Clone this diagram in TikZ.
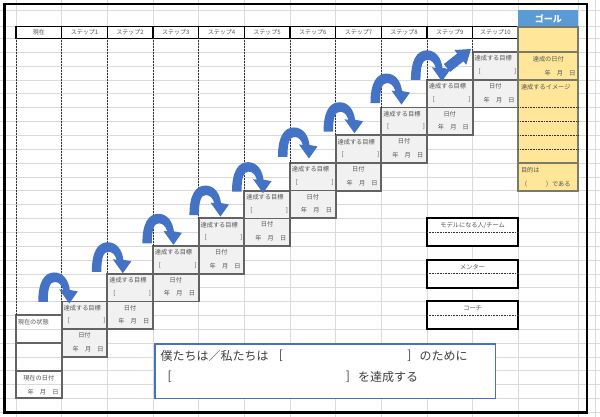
\documentclass[tikz,border=0pt]{standalone}
\usepackage{fontspec}
\setmainfont{Noto Sans CJK JP}
\usetikzlibrary{calc}
\definecolor{gridc}{HTML}{DADADA}
\definecolor{boxline}{HTML}{636363}
\definecolor{boxfill}{HTML}{F1F1F1}
\definecolor{txt}{HTML}{555555}
\definecolor{darktxt}{HTML}{404040}
\definecolor{arrowblue}{HTML}{4472C4}
\definecolor{goalblue}{HTML}{5B9BD5}
\definecolor{goalyellow}{HTML}{FFE699}
\definecolor{goalline}{HTML}{7A7A6A}
\begin{document}
\begin{tikzpicture}[x=1pt,y=-1pt,
  every node/.style={inner sep=0pt, outer sep=0pt},
  small/.style={font=\fontsize{6.2}{7}\selectfont, text=txt},
  hdrcell/.style={draw=black, line width=1.4pt, fill=white, minimum width=45.66pt, minimum height=11.6pt, anchor=north west, font=\fontsize{6}{7}\selectfont, text=txt},
  stepbox/.style={draw=boxline, line width=1.9pt, fill=boxfill, minimum width=45.66pt, minimum height=55.4pt, anchor=north west},
  curbox/.style={draw=boxline, line width=1.9pt, minimum width=45.66pt, minimum height=83.1pt, anchor=north west},
  modelbox/.style={draw=black, line width=2pt, fill=white, minimum width=91.32pt, minimum height=27.7pt, anchor=north west},
  divider/.style={boxline, line width=1.7pt},
  guide/.style={densely dotted, line width=0.5pt, black!80},
  bigtext/.style={font=\fontsize{12}{14}\selectfont, text=darktxt},
  archarrow/.pic={\fill[arrowblue] (0,0) .. controls (0,-20) and (6,-29.5) .. (16,-29.5) .. controls (25.5,-29.5) and (30.5,-21) .. (31.5,-12) -- (39.5,-10.5) -- (31,1.5) -- (21,-12.5) -- (24.8,-12) .. controls (23.5,-17) and (20.5,-20) .. (16.5,-20) .. controls (11.5,-20) and (9.5,-14) .. (9.5,0) -- cycle;}
]
\useasboundingbox (0,0) rectangle (600,417);
\fill[white] (0,0) rectangle (600,417);
% spreadsheet grid
\foreach \i in {0,...,11} \draw[gridc, line width=0.5pt] ({16+45.66*\i},0) -- ({16+45.66*\i},417);
\foreach \xx in {578.3,595} \draw[gridc, line width=0.5pt] (\xx,0) -- (\xx,417);
\foreach \n in {0,...,27} \draw[gridc, line width=0.5pt] (0,{38.3+13.85*\n}) -- (600,{38.3+13.85*\n});
\foreach \yy in {10.5,26.7} \draw[gridc, line width=0.5pt] (0,\yy) -- (600,\yy);
% outer frame
\draw[line width=2.4pt] (4.6,4) rectangle (587,412.3);
% header row
\foreach \k/\lab in {0/現在,1/ステップ1,2/ステップ2,3/ステップ3,4/ステップ4,5/ステップ5,6/ステップ6,7/ステップ7,8/ステップ8,9/ステップ9,10/ステップ10}
  \node[hdrcell] (h\k) at ({16+45.66*\k},26.7) {\lab};
% current state box
\node[curbox] (cur) at (16,315.3) {};
\draw[divider] ($(cur.north west)+(0,27.7)$) -- ($(cur.north east)+(0,27.7)$);
\draw[divider] ($(cur.north west)+(0,55.4)$) -- ($(cur.north east)+(0,55.4)$);
\node[small, anchor=west] (cur-state) at ($(cur.north west)+(1.8,6.5)$) {現在の状態};
\node[small] (cur-date) at ($(cur.north west)+(22.8,63)$) {現在の日付};
\node[small] (cur-ymd) at ($(cur.north west)+(27,76.5)$) {年　月　日};
% step boxes
\foreach \k in {1,...,10}{
  \pgfmathsetmacro{\L}{16+45.66*\k}
  \pgfmathsetmacro{\T}{38.3+13.85*(21-2*\k)}
  \node[stepbox] (s\k) at (\L,\T) {};
  \draw[divider] (s\k.west) -- (s\k.east);
  \node[small, anchor=west] (s\k-goal) at ($(s\k.north west)+(2,6.5)$) {達成する目標};
  \node[small] (s\k-lb) at ($(s\k.north west)+(7,19.5)$) {[};
  \node[small] (s\k-rb) at ($(s\k.north east)+(-3,19.5)$) {]};
  \node[small] (s\k-date) at ($(s\k.north west)+(22.8,34)$) {日付};
  \node[small] (s\k-ymd) at ($(s\k.north west)+(26.5,47.5)$) {年　月　日};
}
% dotted guides
\draw[guide] (h0.south west) -- (cur.north west);
\foreach \k in {1,...,10} \draw[guide] (h\k.south west) -- (s\k.north west);
% goal column
\node[fill=goalblue, minimum width=60pt, minimum height=16.7pt, anchor=north west, text=white, font=\fontsize{9}{10}\selectfont\bfseries] (gh) at (518.3,10) {ゴール};
\node[draw=goalline, line width=1.8pt, fill=goalyellow, minimum width=60pt, minimum height=163.95pt, anchor=north west] (gb) at (518.3,26.7) {};
\foreach \yy in {52.15,79.85,162.95} \draw[goalline, line width=1.4pt] (518.3,\yy) -- (578.3,\yy);
\foreach \yy in {107.55,121.4,135.25,149.1} \draw[densely dotted, line width=0.6pt, black!80] (518.3,\yy) -- (578.3,\yy);
\node[small] (g-date) at (548.3,59.3) {達成の日付};
\node[small] (g-ymd) at (560,72.7) {年　月　日};
\node[small, anchor=west] (g-image) at (521,86.7) {達成するイメージ};
\node[small, anchor=west] (g-purpose) at (521,170) {目的は};
\node[small, anchor=west] (g-dearu) at (521,184) {（　　　）である};
% model / mentor / coach
\node[modelbox] (m1) at (426.94,218.35) {};
\node[modelbox] (m2) at (426.94,259.9) {};
\node[modelbox] (m3) at (426.94,301.45) {};
\foreach \m in {1,2,3} \draw[densely dotted, line width=0.6pt, black!80] (m\m.west) -- (m\m.east);
\node[small] (m1-lab) at ($(m1.north)+(0,6.8)$) {モデルになる人/チーム};
\node[small] (m2-lab) at ($(m2.north)+(0,6.8)$) {メンター};
\node[small] (m3-lab) at ($(m3.north)+(0,6.8)$) {コーチ};
% statement box
\node[draw=arrowblue, line width=1.5pt, fill=white, minimum width=340.7pt, minimum height=54.3pt, anchor=north west] (tb) at (155,344) {};
\node[bigtext, anchor=west] (t1a) at (160.7,356) {僕たちは／私たちは};
\node[bigtext] (t1b) at (281,356) {[};
\node[bigtext] (t1c) at (409.5,356) {]};
\node[bigtext, anchor=west] (t1d) at (419.5,356) {のために};
\node[bigtext] (t2a) at (169.7,376.7) {[};
\node[bigtext] (t2b) at (348,376.7) {]};
\node[bigtext, anchor=west] (t2c) at (358,376.7) {を達成する};
% arch arrows
\foreach \k/\dx/\dy in {1/-23.4/0.5, 2/-15.5/-2, 3/-10.6/-2.7, 4/-9.2/-3.3, 5/-12.3/1, 6/-12/-6, 7/-12.1/-3.5, 8/-10.8/-4.5, 9/-16/0}
  \pic at ($(s\k.north west)+(\dx,\dy)$) {archarrow};
% final straight arrow
\begin{scope}[shift={(s10.north west)}]
\fill[arrowblue] (-28.7,11.95) -- (-15.4,1.35) -- (-18.2,-2.15) -- (-1.6,-3.15) -- (-6.4,12.65) -- (-9.2,9.15) -- (-22.5,19.75) -- cycle;
\end{scope}
\end{tikzpicture}
\end{document}
